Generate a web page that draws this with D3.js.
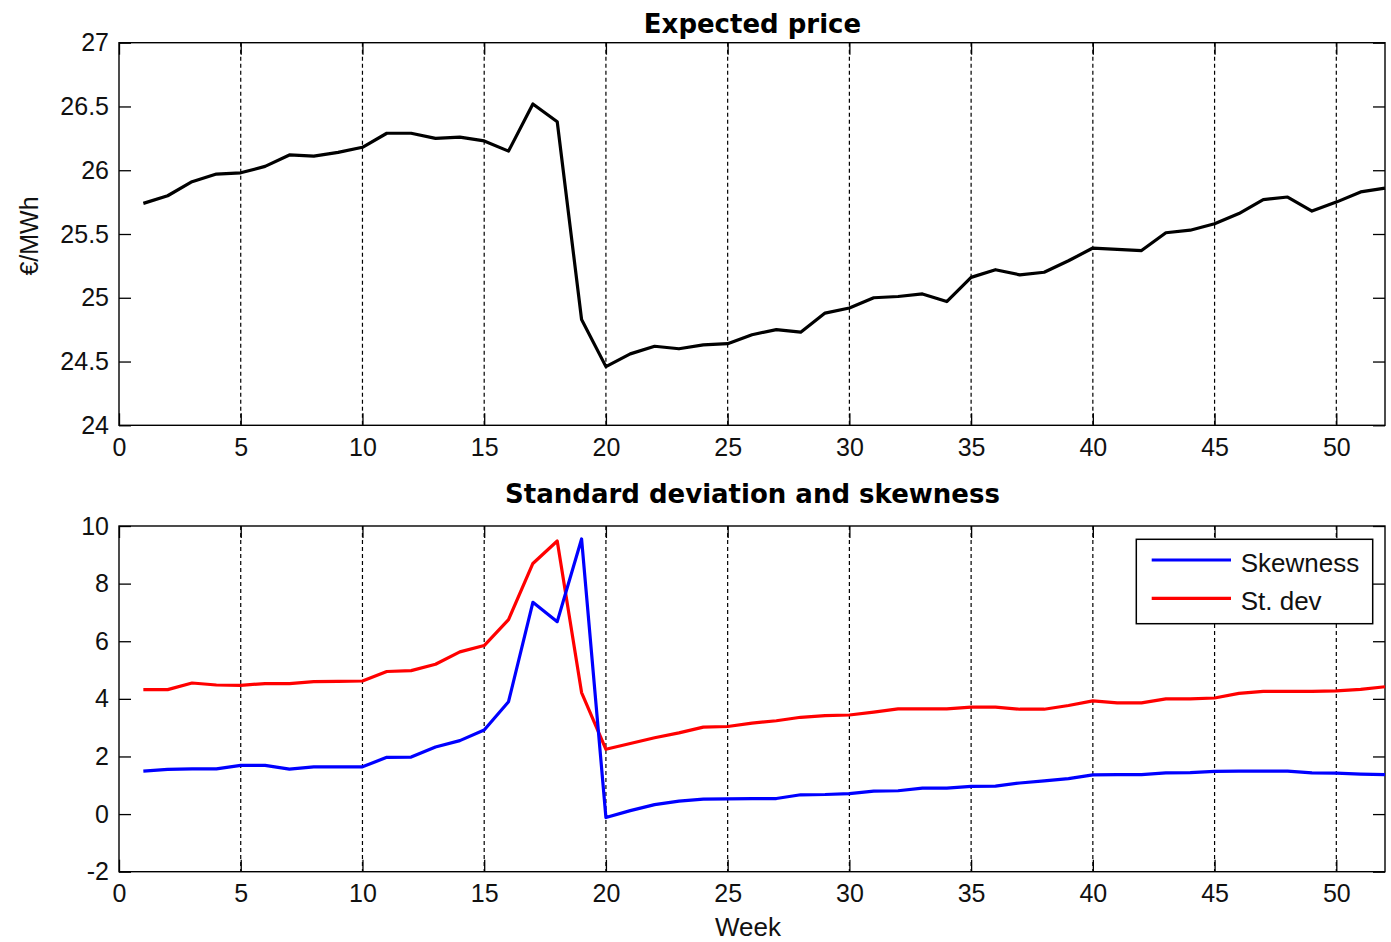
<!DOCTYPE html>
<html><head><meta charset="utf-8">
<script src="https://cdn.jsdelivr.net/npm/d3@7"></script>
<style>body{margin:0;background:#fff}svg{display:block}</style>
</head><body><svg id="c" width="1391" height="942"></svg>
<script>
const weeks = d3.range(1, 53);
const expectedPrice = [25.74,25.80,25.91,25.97,25.98,26.03,26.12,26.11,26.14,26.18,
 26.29,26.29,26.25,26.26,26.23,26.15,26.52,26.38,24.83,24.46,
 24.56,24.62,24.60,24.63,24.64,24.71,24.75,24.73,24.88,24.92,
 25.00,25.01,25.03,24.97,25.16,25.22,25.18,25.20,25.29,25.39,
 25.38,25.37,25.51,25.53,25.58,25.66,25.77,25.79,25.68,25.75,25.83,25.86];
const skewness = [1.49,1.55,1.57,1.57,1.69,1.69,1.56,1.64,1.64,1.64,
 1.97,1.98,2.33,2.55,2.92,3.90,7.35,6.68,9.55,-0.12,
 0.12,0.33,0.45,0.52,0.53,0.54,0.54,0.67,0.68,0.71,
 0.80,0.81,0.90,0.90,0.96,0.97,1.08,1.15,1.23,1.36,
 1.37,1.37,1.43,1.44,1.48,1.49,1.49,1.49,1.43,1.42,1.39,1.37];
const stDev = [4.32,4.32,4.55,4.48,4.47,4.53,4.53,4.60,4.61,4.62,
 4.95,4.98,5.20,5.63,5.85,6.75,8.70,9.48,4.22,2.25,
 2.45,2.65,2.82,3.02,3.04,3.16,3.24,3.36,3.42,3.44,
 3.54,3.65,3.65,3.65,3.71,3.71,3.64,3.64,3.77,3.93,
 3.86,3.86,4.00,4.00,4.03,4.19,4.26,4.26,4.26,4.28,4.33,4.42];
const xTicks = [0,5,10,15,20,25,30,35,40,45,50];
const yTicksTop = [24,24.5,25,25.5,26,26.5,27];
const yTicksBottom = [-2,0,2,4,6,8,10];
const titles = ["Expected price", "Standard deviation and skewness"];
const legendLabels = ["Skewness", "St. dev"];

const svg = d3.select("#c");
const L = 119, R = 1385;
const x = d3.scaleLinear().domain([0, 52]).range([L, R]);
const tickFont = "'Liberation Sans', Arial, sans-serif";
const plain = d => String(d);

function panel(top, bottom, yDomain, yTicks, title, titleY) {
  const y = d3.scaleLinear().domain(yDomain).range([bottom, top]);
  const g = svg.append("g");
  g.append("rect").attr("x", L).attr("y", top).attr("width", R - L).attr("height", bottom - top)
    .attr("fill", "#fff");
  g.append("g").selectAll("line").data(xTicks.filter(d => d > 0)).join("line")
    .attr("x1", d => x(d)).attr("x2", d => x(d)).attr("y1", top).attr("y2", bottom)
    .attr("stroke", "#000").attr("stroke-width", 1.2).attr("stroke-dasharray", "4,3");
  const ax = (gen, tx, ty) => {
    const a = g.append("g").attr("transform", `translate(${tx},${ty})`).call(gen);
    a.select(".domain").remove();
    a.selectAll("line").attr("stroke", "#000").attr("stroke-width", 1.3);
    a.selectAll("text").attr("font-family", tickFont).attr("font-size", 25).attr("fill", "#111");
    return a;
  };
  ax(d3.axisBottom(x).tickValues(xTicks).tickSize(-12).tickPadding(13).tickFormat(plain), 0, bottom);
  ax(d3.axisTop(x).tickValues(xTicks).tickSize(-12).tickFormat(""), 0, top);
  ax(d3.axisLeft(y).tickValues(yTicks).tickSize(-12).tickPadding(10).tickFormat(plain), L, 0);
  ax(d3.axisRight(y).tickValues(yTicks).tickSize(-12).tickFormat(""), R, 0);
  g.append("rect").attr("x", L).attr("y", top).attr("width", R - L).attr("height", bottom - top)
    .attr("fill", "none").attr("stroke", "#000").attr("stroke-width", 1.4);
  svg.append("text").attr("x", (L + R) / 2 + 0.5).attr("y", titleY)
    .attr("text-anchor", "middle").attr("font-family", "'DejaVu Sans', sans-serif")
    .attr("font-weight", "bold").attr("font-size", 26).attr("fill", "#000").text(title);
  return { y, g };
}

const p1 = panel(42.7, 425.3, [24, 27], yTicksTop, titles[0], 33);
const line1 = d3.line().x((d, i) => x(weeks[i])).y(d => p1.y(d));
svg.append("path").datum(expectedPrice).attr("d", line1).attr("fill", "none")
  .attr("stroke", "#000").attr("stroke-width", 3.2).attr("stroke-linejoin", "round");

const p2 = panel(526, 871.7, [-2, 10], yTicksBottom, titles[1], 503);
const line2 = d3.line().x((d, i) => x(weeks[i])).y(d => p2.y(d));
svg.append("path").datum(stDev).attr("d", line2).attr("fill", "none")
  .attr("stroke", "#ff0000").attr("stroke-width", 3.2).attr("stroke-linejoin", "round");
svg.append("path").datum(skewness).attr("d", line2).attr("fill", "none")
  .attr("stroke", "#0000ff").attr("stroke-width", 3.2).attr("stroke-linejoin", "round");

svg.append("text").attr("transform", "translate(38,236) rotate(-90)").attr("text-anchor", "middle")
  .attr("font-family", tickFont).attr("font-size", 25).attr("fill", "#111").text("€/MWh");
svg.append("text").attr("x", 748).attr("y", 936).attr("text-anchor", "middle")
  .attr("font-family", tickFont).attr("font-size", 26).attr("fill", "#111").text("Week");

const lg = svg.append("g");
lg.append("rect").attr("x", 1136.3).attr("y", 539.3).attr("width", 236.4).attr("height", 84.4)
  .attr("fill", "#fff").attr("stroke", "#000").attr("stroke-width", 1.5);
const legColors = ["#0000ff", "#ff0000"];
const legY = [560, 598.3];
legendLabels.forEach((t, i) => {
  lg.append("line").attr("x1", 1151.7).attr("x2", 1231).attr("y1", legY[i]).attr("y2", legY[i])
    .attr("stroke", legColors[i]).attr("stroke-width", 3.2);
  lg.append("text").attr("x", 1240.7).attr("y", legY[i] + 11.5).attr("font-family", tickFont)
    .attr("font-size", 26).attr("fill", "#111").text(t);
});
</script></body></html>
